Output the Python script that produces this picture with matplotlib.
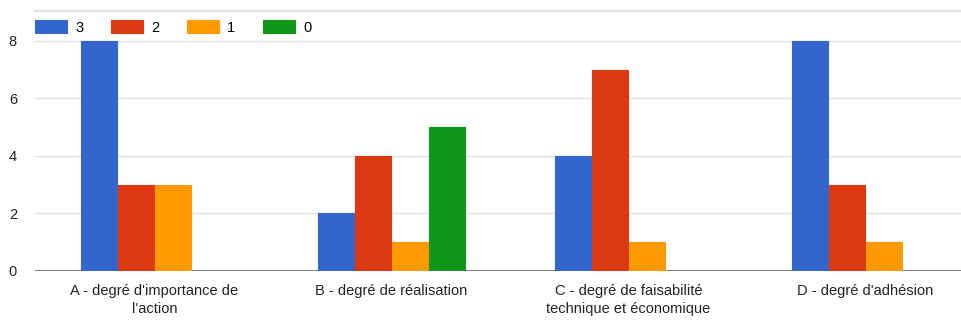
import numpy as np
import matplotlib.pyplot as plt

plt.rcParams['font.family'] = ['Liberation Sans', 'DejaVu Sans']

# Data
categories = ["A - degré d'importance de\nl'action", "B - degré de réalisation",
              "C - degré de faisabilité\ntechnique et économique", "D - degré d'adhésion"]
series_names = ['3', '2', '1', '0']
values_3 = [8, 2, 4, 8]
values_2 = [3, 4, 7, 3]
values_1 = [3, 1, 1, 1]
values_0 = [0, 5, 0, 0]
colors = ['#3366cc', '#dc3912', '#ff9900', '#109618']

fig = plt.figure(figsize=(9.62, 3.22), dpi=100)
ax = fig.add_axes([35 / 962, 1 - 271 / 322, 927 / 962, 260 / 322])

x = np.arange(len(categories))
width = 0.156
all_series = [values_3, values_2, values_1, values_0]
for i, (vals, name, c) in enumerate(zip(all_series, series_names, colors)):
    ax.bar(x + (i - 1.5) * width, vals, width * 0.97, color=c, label=name,
           edgecolor=c, linewidth=0.8, zorder=3)

ax.set_xlim(-0.504, 3.407)
ax.set_ylim(0, 9.04)
ax.set_yticks([0, 2, 4, 6, 8])
ax.yaxis.grid(True, color='#e2e2e2', linewidth=1, zorder=0)
ax.axhline(9.04, color='#e2e2e2', linewidth=1.5, clip_on=False)
ax.axhline(0, color='#666666', linewidth=1.2, zorder=2)
for s in ax.spines.values():
    s.set_visible(False)
ax.tick_params(axis='both', length=0, labelsize=10.5, labelcolor='#222222')
ax.tick_params(axis='y', pad=13)
ax.set_xticks(x)
ax.set_xticklabels(categories, linespacing=1.45)
ax.tick_params(axis='x', pad=9)

fig.legend(loc='upper left', bbox_to_anchor=(35 / 962, 1 - 20 / 322), ncol=4,
           frameon=False, fontsize=10.5, handlelength=2.2, handleheight=1.0,
           handletextpad=0.55, columnspacing=1.9, borderpad=0, borderaxespad=0)

plt.savefig('out.png', dpi=100)
